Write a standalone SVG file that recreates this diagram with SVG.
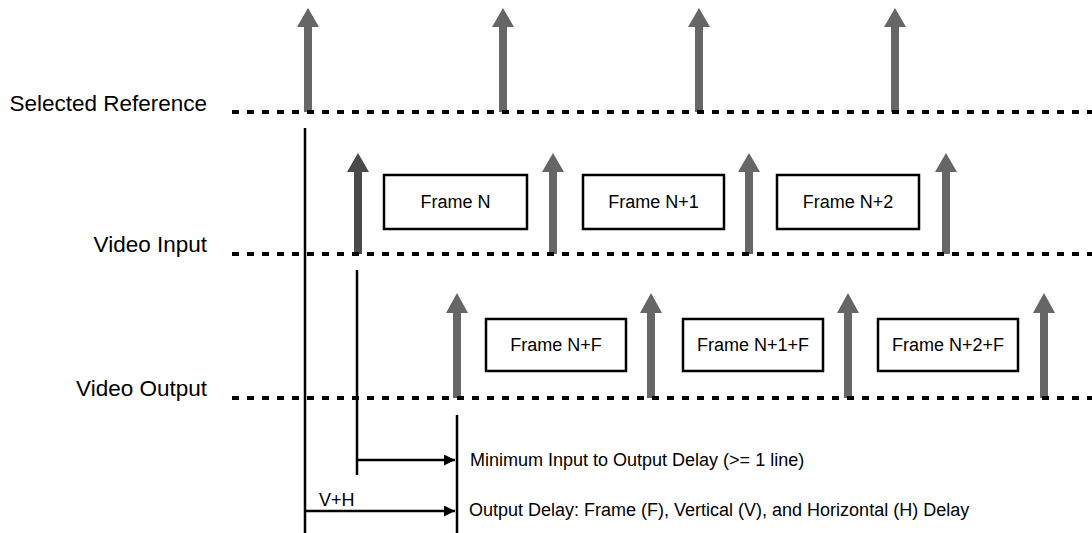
<svg xmlns="http://www.w3.org/2000/svg" width="1092" height="533" viewBox="0 0 1092 533">
<style>
.lbl{font-family:"Liberation Sans",Arial,sans-serif;font-size:22.5px;fill:#000;text-anchor:end}
.bx{fill:#fff;stroke:#000;stroke-width:2.5}
.bt{font-family:"Liberation Sans",Arial,sans-serif;font-size:18px;fill:#000;text-anchor:middle}
.nt{font-family:"Liberation Sans",Arial,sans-serif;font-size:18px;fill:#000}
.dot{stroke:#000;stroke-width:4;stroke-dasharray:7 8;fill:none}
.ln{stroke:#000;stroke-width:2.5;fill:none}
.ar{fill:#666}
.ar2{fill:#4a4a4a}
</style>
<defs>
<path id="aRef" d="M-4,104 V19 H-11 L0,0 L11,19 H4 V104 Z"/>
<path id="aIn" d="M-4,101 V19 H-11 L0,0 L11,19 H4 V101 Z"/>
<path id="aOut" d="M-4,105 V20 H-11 L0,0 L11,20 H4 V105 Z"/>
<marker id="mh" markerUnits="userSpaceOnUse" markerWidth="11" markerHeight="11" refX="11" refY="5.5" orient="auto">
<path d="M0,0 L11,5.5 L0,11 Z" fill="#000"/>
</marker>
</defs>
<g id="labels">
<text class="lbl" x="207" y="111">Selected Reference</text>
<text class="lbl" x="207" y="252">Video Input</text>
<text class="lbl" x="207" y="396">Video Output</text>
</g>
<g id="ref-arrows">
<use href="#aRef" class="ar" x="308" y="8"/>
<use href="#aRef" class="ar" x="503" y="8"/>
<use href="#aRef" class="ar" x="699" y="8"/>
<use href="#aRef" class="ar" x="895" y="8"/>
</g>
<g id="input-arrows">
<use href="#aIn" class="ar2" x="358" y="153"/>
<use href="#aIn" class="ar" x="553" y="153"/>
<use href="#aIn" class="ar" x="749" y="153"/>
<use href="#aIn" class="ar" x="946" y="153"/>
</g>
<g id="output-arrows">
<use href="#aOut" class="ar" x="457" y="293"/>
<use href="#aOut" class="ar" x="651" y="293"/>
<use href="#aOut" class="ar" x="848" y="293"/>
<use href="#aOut" class="ar" x="1044" y="293"/>
</g>
<g id="timelines">
<line class="dot" x1="232" y1="112" x2="1092" y2="112"/>
<line class="dot" x1="232" y1="254" x2="1092" y2="254"/>
<line class="dot" x1="232" y1="398" x2="1092" y2="398"/>
</g>
<g id="frame-n"><rect class="bx" x="384" y="175" width="143" height="54"/><text class="bt" x="455.5" y="208">Frame N</text></g>
<g id="frame-n1"><rect class="bx" x="583" y="175" width="141" height="54"/><text class="bt" x="653.5" y="208">Frame N+1</text></g>
<g id="frame-n2"><rect class="bx" x="777" y="175" width="142" height="54"/><text class="bt" x="848" y="208">Frame N+2</text></g>
<g id="frame-nf"><rect class="bx" x="486" y="319" width="140" height="52"/><text class="bt" x="556" y="351">Frame N+F</text></g>
<g id="frame-n1f"><rect class="bx" x="683" y="319" width="140" height="52"/><text class="bt" x="753" y="351">Frame N+1+F</text></g>
<g id="frame-n2f"><rect class="bx" x="878" y="319" width="140" height="52"/><text class="bt" x="948" y="351">Frame N+2+F</text></g>
<g id="connectors">
<line class="ln" x1="305" y1="128" x2="305" y2="533"/>
<line class="ln" x1="357" y1="270" x2="357" y2="475"/>
<line class="ln" x1="457" y1="415" x2="457" y2="533"/>
<line class="ln" x1="357" y1="460" x2="455" y2="460" marker-end="url(#mh)"/>
<line class="ln" x1="305" y1="511" x2="455" y2="511" marker-end="url(#mh)"/>
</g>
<g id="notes">
<text class="nt" x="319" y="506">V+H</text>
<text class="nt" x="470" y="466">Minimum Input to Output Delay (&gt;= 1 line)</text>
<text class="nt" x="469" y="516">Output Delay: Frame (F), Vertical (V), and Horizontal (H) Delay</text>
</g>
</svg>
